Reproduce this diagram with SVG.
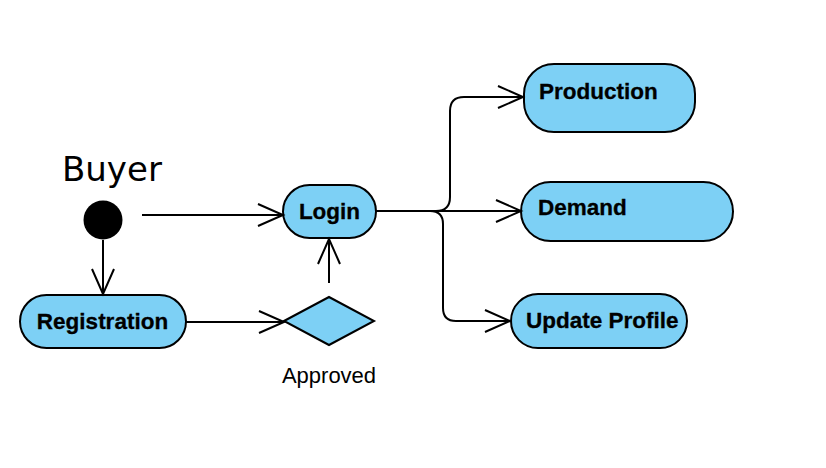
<svg xmlns="http://www.w3.org/2000/svg" width="826" height="468" viewBox="0 0 826 468">
<style>
.node{fill:#7dd0f5;stroke:#000;stroke-width:2}
.lbl{font-family:"Liberation Sans",Arial,sans-serif;font-weight:bold;font-size:22.5px;fill:#000;stroke:#000;stroke-width:0.3}
.conn{fill:none;stroke:#000;stroke-width:2}
</style>
<defs>
<marker id="arr" markerUnits="userSpaceOnUse" viewBox="-27 -13 29 26" refX="0" refY="0" markerWidth="29" markerHeight="26" orient="auto" overflow="visible">
<path d="M-25,-11 L0,0 L-25,11" fill="none" stroke="#000" stroke-width="2"/>
</marker>
</defs>
<rect width="826" height="468" fill="#fff"/>
<g id="buyer-title"><text x="62" y="181" font-family="DejaVu Sans,Verdana,sans-serif" font-size="34" fill="#000">Buyer</text></g>
<g id="start"><circle cx="103" cy="220" r="19.5" fill="#000"/></g>
<g id="login"><rect class="node" x="283" y="185" width="93" height="53" rx="26.5"/><text class="lbl" x="329.5" y="219" text-anchor="middle">Login</text></g>
<g id="registration"><rect class="node" x="20" y="295" width="166" height="53" rx="26.5"/><text class="lbl" x="102.5" y="329" text-anchor="middle">Registration</text></g>
<g id="approved"><polygon class="node" points="284,321 329,297 374,321 329,345"/><text x="329" y="383" text-anchor="middle" font-family="Liberation Sans,Arial,sans-serif" font-size="22" fill="#000">Approved</text></g>
<g id="production"><rect class="node" x="524" y="64" width="171" height="68" rx="30"/><text class="lbl" x="539" y="99">Production</text></g>
<g id="demand"><rect class="node" x="521" y="182" width="212" height="59" rx="29.5"/><text class="lbl" x="538" y="215">Demand</text></g>
<g id="update-profile"><rect class="node" x="511" y="294" width="176" height="54" rx="27"/><text class="lbl" x="526" y="328">Update Profile</text></g>
<g id="connectors">
<path class="conn" d="M142,215 H283" marker-end="url(#arr)"/>
<path class="conn" d="M103,240 V294" marker-end="url(#arr)"/>
<path class="conn" d="M186,322 H284" marker-end="url(#arr)"/>
<path class="conn" d="M329,283 V239" marker-end="url(#arr)"/>
<path class="conn" d="M376,211 H521" marker-end="url(#arr)"/>
<path class="conn" d="M376,211 H436 Q450,211 450,197 V111 Q450,97 464,97 H523" marker-end="url(#arr)"/>
<path class="conn" d="M376,211 H430 Q443,211 443,224 V308 Q443,321 456,321 H510" marker-end="url(#arr)"/>
</g>
</svg>
